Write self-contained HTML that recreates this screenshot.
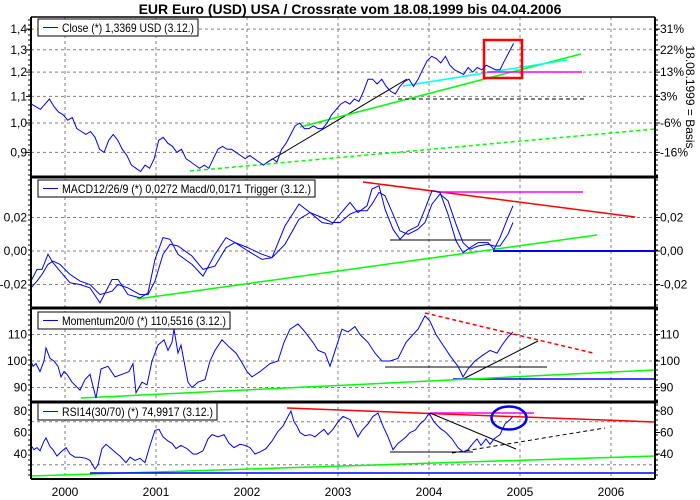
<!DOCTYPE html>
<html><head><meta charset="utf-8"><style>
body{margin:0;background:#fff}
svg{display:block;font-family:"Liberation Sans",sans-serif}
</style></head><body>
<svg id="c" width="700" height="500" viewBox="0 0 700 500">
<rect width="700" height="500" fill="#fff"/>
<text x="350" y="14" text-anchor="middle" font-size="14" font-weight="bold">EUR Euro (USD) USA / Crossrate vom 18.08.1999 bis 04.04.2006</text>
<text transform="translate(686,97) rotate(90)" text-anchor="middle" font-size="12">18.08.1999 = Basis</text>
<g id="grid"></g><g id="ann"></g><g id="ser"></g><g id="frame"></g><g id="lab"></g>
</svg>
<script>
// ---- data ----
const years=[2000,2001,2002,2003,2004,2005,2006];
const closeStart=1999.63, closeStep=0.05;
const closeVals=[1.07,1.06,1.05,1.07,1.09,1.06,1.04,1.03,1.01,1.02,0.98,0.97,0.96,0.97,0.95,0.91,0.90,0.94,0.96,0.94,0.91,0.89,0.86,0.85,0.84,0.86,0.85,0.88,0.94,0.95,0.93,0.92,0.90,0.91,0.88,0.87,0.86,0.85,0.86,0.85,0.88,0.91,0.92,0.91,0.91,0.90,0.89,0.88,0.89,0.88,0.87,0.86,0.87,0.88,0.87,0.91,0.93,0.96,0.99,1.00,0.98,0.98,0.99,0.98,0.98,1.00,1.03,1.05,1.07,1.08,1.07,1.09,1.08,1.12,1.17,1.17,1.15,1.17,1.14,1.12,1.11,1.14,1.16,1.17,1.14,1.17,1.21,1.25,1.27,1.26,1.24,1.27,1.23,1.21,1.20,1.19,1.22,1.20,1.22,1.21,1.23,1.22,1.21,1.21,1.25,1.29,1.33];
const closeTicks=[1.4,1.3,1.2,1.1,1.0,0.9];
const closeTickLabels=["1,4","1,3","1,2","1,1","1,0","0,9"];
const pctLabels=["31%","22%","13%","3%","-6%","-16%"];
const macdX=[31,37,42,48,53,60,70,80,90,100,112,118,128,140,148,155,163,170,178,192,203,215,226,235,248,262,272,285,299,310,322,332,340,350,358,367,372,379,385,393,400,408,418,425,432,440,448,456,463,470,478,488,494,500,508,513];
const macdVals=[-0.018,-0.011,-0.011,-0.002,-0.007,-0.012,-0.019,-0.020,-0.022,-0.031,-0.017,-0.017,-0.026,-0.028,-0.025,-0.005,0.008,0.007,-0.002,-0.008,-0.015,-0.002,0.008,0.005,0.000,-0.005,-0.004,0.015,0.028,0.023,0.017,0.016,0.022,0.029,0.023,0.027,0.037,0.039,0.025,0.013,0.007,0.012,0.015,0.025,0.036,0.035,0.022,0.006,-0.001,0.002,0.005,0.005,0.001,0.008,0.020,0.027];
const trigVals=[-0.022,-0.018,-0.014,-0.008,-0.006,-0.008,-0.014,-0.018,-0.020,-0.026,-0.024,-0.020,-0.022,-0.026,-0.026,-0.018,-0.002,0.004,0.003,-0.003,-0.011,-0.009,0.002,0.005,0.002,-0.002,-0.004,0.004,0.019,0.023,0.020,0.017,0.017,0.022,0.024,0.024,0.028,0.035,0.033,0.022,0.012,0.010,0.013,0.017,0.028,0.034,0.030,0.016,0.005,0.001,0.003,0.004,0.003,0.003,0.010,0.017];
const macdTicks=[0.02,0,-0.02];
const macdTickLabels=["0,02","0,00","-0,02"];
const momX=[31,33,36,40,44,46,50,54,58,61,64,67,72,80,85,90,96,101,108,115,122,129,133,136,142,147,152,158,164,168,172,174,178,181,188,192,198,205,210,215,222,230,236,241,247,252,260,270,278,284,290,298,305,313,318,325,330,336,342,348,355,360,368,375,382,390,398,406,413,418,425,430,436,443,450,458,463,468,475,482,490,497,502,508,513];
const momVals=[100,98,99,96,100,105,101,100,98,94,96,95,92,89,93,95,86,97,98,94,95,96,99,88,92,91,100,106,108,104,107,112,103,106,92,90,92,93,100,104,108,105,103,100,96,94,96,99,100,107,112,114,111,107,104,103,98,105,112,111,113,110,107,103,100,100,101,107,110,112,117,115,110,106,102,98,94,97,100,102,104,103,106,109,111];
const momTicks=[110,100,90];
const rsiX=[31,34,37,40,44,46,50,53,57,61,66,70,75,80,86,90,95,98,102,106,110,116,120,126,130,135,140,145,150,155,159,163,168,172,176,181,187,193,197,203,208,212,218,224,229,234,240,245,250,255,260,266,272,278,283,288,291,294,297,300,305,310,315,320,324,328,333,338,343,350,358,362,368,373,378,383,388,393,398,405,410,415,420,425,429,434,440,446,452,458,463,468,473,477,481,486,490,494,500,505,510,513];
const rsiVals=[48,44,46,43,52,55,47,44,38,42,46,40,37,37,36,34,26,30,45,49,46,41,38,32,37,34,36,32,48,62,63,56,52,50,45,48,45,40,40,43,54,58,56,58,50,46,49,48,46,40,42,45,52,61,66,75,80,70,66,60,57,58,56,60,63,58,63,70,75,72,56,62,68,75,78,66,56,44,50,55,60,62,68,72,78,70,64,60,54,46,42,44,50,54,48,54,49,54,58,68,72,75];
const rsiTicks=[80,60,40];
// ---- geometry ----
const L=31,R=655;
const P=[{t:17,b:177},{t:177,b:308},{t:308,b:402},{t:402,b:479}];
const xT=t=>65+91*(t-2000);
const yC=v=>123-279*Math.log(v);
const yM=v=>251-v/0.02*33.5;
const yMo=v=>361-(v-100)*2.65;
const yR=v=>411+(80-v)*1.075;
const NS="http://www.w3.org/2000/svg";
function mk(tag,attrs,parent,name){const e=document.createElementNS(NS,tag);for(const k in attrs)e.setAttribute(k,attrs[k]);


document.getElementById(parent).appendChild(e);return e;}
function line(x1,y1,x2,y2,col,w,parent,name,dash){const a={x1,y1,x2,y2,stroke:col,'stroke-width':w};if(dash)a['stroke-dasharray']=dash;return mk('line',a,parent,name);}
function txt(x,y,s,anchor,parent,name){const e=mk('text',{x,y,'font-size':12,'text-anchor':anchor},parent,name);e.textContent=s;return e;}
years.forEach(y=>{const x=xT(y);line(x,P[0].t,x,P[3].b,'#808080',1,'grid','year-gridline-'+y,'3,3');txt(x,496,String(y),'middle','lab','year-label-'+y);});
closeTicks.forEach((v,i)=>{const y=yC(v);line(L,y,R,y,'#808080',1,'grid','close-gridline','3,3');txt(27,y+4,closeTickLabels[i],'end','lab','close-tick-label');txt(660,y+4,pctLabels[i],'start','lab','pct-tick-label');line(R,y,R+5,y,'#000',1,'frame','pct-tick');line(L-5,y,L,y,'#000',1,'frame','close-tick');});
macdTicks.forEach((v,i)=>{const y=yM(v);line(L,y,R,y,'#808080',1,'grid','macd-gridline','3,3');txt(27,y+4,macdTickLabels[i],'end','lab','macd-tick-label');txt(660,y+4,macdTickLabels[i],'start','lab','macd-right-label');line(R,y,R+5,y,'#000',1,'frame','macd-tick');});
momTicks.forEach(v=>{const y=yMo(v);line(L,y,R,y,'#808080',1,'grid','mom-gridline','3,3');txt(27,y+4,String(v),'end','lab','mom-tick-label');txt(660,y+4,String(v),'start','lab','mom-right-label');line(R,y,R+5,y,'#000',1,'frame','mom-tick');});
[70,30].forEach(v=>{const y=yR(v);line(L,y,R,y,'#808080',1,'grid','rsi-gridline','3,3');});
rsiTicks.forEach(v=>{const y=yR(v);txt(27,y+4,String(v),'end','lab','rsi-tick-label');txt(660,y+4,String(v),'start','lab','rsi-right-label');line(R,y,R+5,y,'#000',1,'frame','rsi-tick');});
for(let y=P[0].t+3;y<P[3].b;y+=5){line(L-3,y,L,y,'#000',1,'frame','minor-tick');line(R,y,R+3,y,'#000',1,'frame','minor-tick-right');}
const A=[
['#000',1,266,163,407,79,''],['#00ff00',1.5,190,171,655,129,'4,3'],['#00ff00',1.5,300,127,581,54,''],['#00ffff',1.5,403,86,567,60,''],['#ff00ff',1.5,487,72,582,72,''],['#000',1,398,99,585,99,'4,3'],
['#ff0000',1.5,363,182,635,217,''],['#ff00ff',1.5,437,192,583,192,''],['#000',1,390,240,491,240,''],['#00ff00',1.5,137,299,597,235,''],['#0000ff',2,493,251,655,251,''],
['#ff0000',1.5,425,313,593,353,'4,3'],['#000',1,385,367,547,367,''],['#000',1,463,379,538,341,''],['#0000ff',1.5,453,379,655,379,''],['#00ff00',1.5,81,398,655,370,''],
['#ff0000',1.5,287,408,655,422,''],['#ff00ff',1.5,430,413,534,413,''],['#000',1,430,413,516,449,''],['#000',1,390,452,473,452,''],['#000',1,452,453,605,428,'4,3'],['#00ff00',1.5,31,476,655,456,''],['#0000ff',1.5,90,473,655,473,'']];
A.forEach(a=>line(a[2],a[3],a[4],a[5],a[0],a[1],'ann','trend-line',a[6]||null));
mk('rect',{x:484,y:40,width:38,height:38,fill:'none',stroke:'#ff0000','stroke-width':2.5},'ann','highlight-box');
mk('ellipse',{cx:509,cy:418,rx:17.5,ry:11.5,fill:'none',stroke:'#0000ff','stroke-width':2.5},'ann','highlight-ellipse');
function path(xs,ys,name){mk('path',{d:xs.map((x,i)=>(i?'L':'M')+x.toFixed(1)+','+ys[i].toFixed(1)).join(''),fill:'none',stroke:'#0000ff','stroke-width':1},'ser',name);}
path(closeVals.map((v,i)=>xT(closeStart+i*closeStep)),closeVals.map(yC),'close-line');
path(macdX,macdVals.map(yM),'macd-line');
path(macdX,trigVals.map(yM),'trigger-line');
path(momX,momVals.map(yMo),'momentum-line');
path(rsiX,rsiVals.map(yR),'rsi-line');
line(L,P[0].t,R,P[0].t,'#000',1.5,'frame','frame-top');
line(L,P[0].t,L,P[3].b,'#000',2,'frame','frame-left');
line(R,P[0].t,R,P[3].b,'#000',2,'frame','frame-right');
[177,308,402].forEach(y=>line(L,y,R+3,y,'#000',3,'frame','panel-separator'));
line(L,P[3].b,R,P[3].b,'#000',2,'frame','frame-bottom');
function legend(x,y,w,s,name){mk('rect',{x,y,width:w,height:17,fill:'#fff',stroke:'#000','stroke-width':1},'lab',name);line(x+5,y+8.5,x+20,y+8.5,'#0000ff',1,'lab',name+'-swatch');const t=txt(x+24,y+13,s,'start','lab',name+'-text');t.setAttribute('textLength',w-28);t.setAttribute('lengthAdjust','spacingAndGlyphs');}
legend(38,19,160,'Close (*) 1,3369 USD (3.12.)','close-legend');
legend(38,180,277,'MACD12/26/9 (*) 0,0272 Macd/0,0171 Trigger (3.12.)','macd-legend');
legend(38,312,192,'Momentum20/0 (*) 110,5516 (3.12.)','momentum-legend');
legend(38,403,179,'RSI14(30/70) (*) 74,9917 (3.12.)','rsi-legend');
</script>
</body></html>
